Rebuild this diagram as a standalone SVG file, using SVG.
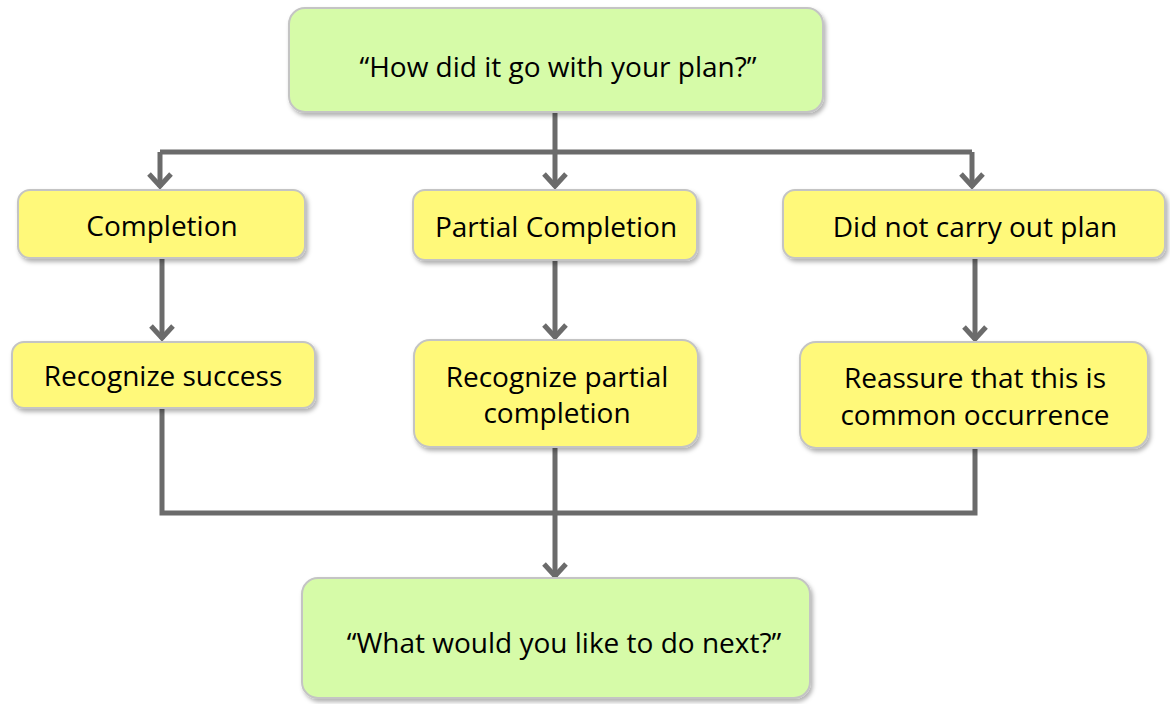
<svg xmlns="http://www.w3.org/2000/svg" width="1170" height="704" viewBox="0 0 1170 704">
<defs>
<filter id="sh" x="-10%" y="-10%" width="120%" height="130%">
<feDropShadow dx="2" dy="3" stdDeviation="2" flood-color="#000" flood-opacity="0.3"/>
</filter>
<marker id="ah" markerUnits="userSpaceOnUse" viewBox="-18 -16 22 32" refX="0" refY="0" markerWidth="22" markerHeight="32" orient="auto">
<path d="M-13,-11 L-1,0 L-13,11" fill="none" stroke="#6b6b6b" stroke-width="5" stroke-linejoin="miter"/>
</marker>
</defs>
<style>
.g{fill:#d6fba8;stroke:#c4c4c4;stroke-width:2;filter:url(#sh)}
.y{fill:#fff97a;stroke:#c4c4c4;stroke-width:2;filter:url(#sh)}
text{font-family:"Open Sans","Liberation Sans",sans-serif;font-size:28px;fill:#000;text-anchor:middle}
.c{fill:none;stroke:#6b6b6b;stroke-width:5}
</style>
<rect width="1170" height="704" fill="#fff"/>
<g id="connectors">
<path class="c" d="M555,112 V152 M160,152 H972"/>
<path class="c" d="M160,152 V187" marker-end="url(#ah)"/>
<path class="c" d="M555,152 V187" marker-end="url(#ah)"/>
<path class="c" d="M972,152 V187" marker-end="url(#ah)"/>
<path class="c" d="M162,258 V339" marker-end="url(#ah)"/>
<path class="c" d="M555,260 V338" marker-end="url(#ah)"/>
<path class="c" d="M975,258 V340" marker-end="url(#ah)"/>
<path class="c" d="M162,408 V513 H975 V448"/>
<path class="c" d="M555,447 V577" stroke-width="6" marker-end="url(#ah)"/>
</g>
<g id="n_top"><rect class="g" x="289" y="8" width="534" height="104" rx="16"/><text x="558" y="77">“How did it go with your plan?”</text></g>
<g id="n_completion"><rect class="y" x="18" y="190" width="287" height="68" rx="12"/><text x="162" y="236">Completion</text></g>
<g id="n_partial"><rect class="y" x="413" y="190" width="284" height="70" rx="12"/><text x="556" y="237">Partial Completion</text></g>
<g id="n_notcarry"><rect class="y" x="783" y="190" width="382" height="68" rx="12"/><text x="975" y="237">Did not carry out plan</text></g>
<g id="n_success"><rect class="y" x="12" y="342" width="303" height="66" rx="12"/><text x="163" y="386">Recognize success</text></g>
<g id="n_rpartial"><rect class="y" x="414" y="340" width="284" height="107" rx="16"/><text x="557" y="387">Recognize partial</text><text x="557" y="423">completion</text></g>
<g id="n_reassure"><rect class="y" x="800" y="342" width="348" height="106" rx="16"/><text x="975" y="388">Reassure that this is</text><text x="975" y="425">common occurrence</text></g>
<g id="n_next"><rect class="g" x="302" y="578" width="508" height="120" rx="16"/><text x="564" y="653">“What would you like to do next?”</text></g>
</svg>
